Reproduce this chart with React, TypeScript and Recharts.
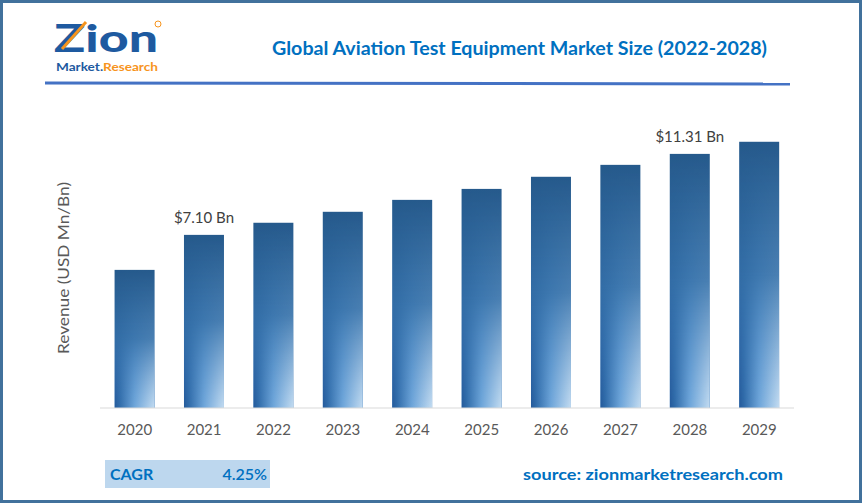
import React from "react";
import { BarChart, Bar, XAxis, YAxis, LabelList } from "recharts";

const years = ["2020", "2021", "2022", "2023", "2024", "2025", "2026", "2027", "2028", "2029"];
const revenue = [5.28, 7.1, 7.73, 8.3, 8.92, 9.49, 10.12, 10.74, 11.31, 11.94];
const valueLabels = ["", "$7.10 Bn", "", "", "", "", "", "", "$11.31 Bn", ""];
const axisMin = -1.9;
const axisMax = 12.5;

const data = years.map((y, i) => ({ year: y, value: revenue[i], range: [axisMin, revenue[i]], label: valueLabels[i] }));

const FONT = "Lato, 'Open Sans', sans-serif";

const GradientBar = (props: any) => {
  const { x, y, width, height } = props;
  if (!height || height <= 0) return null;
  return (
    <g>
      <rect x={x} y={y} width={width} height={height} fill="url(#barV)" />
      <rect x={x} y={y} width={width} height={height} fill="url(#barH)" mask="url(#barMask)" />
    </g>
  );
};

const renderLabel = (props: any) => {
  const { x, y, width, value } = props;
  if (!value) return null;
  return (
    <text x={x + width / 2} y={y - 12} textAnchor="middle" fontSize={15} fill="#404040" fontFamily={FONT}>
      {value}
    </text>
  );
};

export default function App() {
  return (
    <div style={{ position: "absolute", left: 0, top: 0, width: 862, height: 503, background: "#fff", fontFamily: FONT }}>
      <BarChart
        width={862}
        height={503}
        data={data}
        margin={{ top: 131, right: 68, bottom: 65, left: 100 }}
        barCategoryGap="21%"
      >
        <defs>
          <linearGradient id="barV" x1="0" y1="0" x2="0" y2="1">
            <stop offset="0" stopColor="#265A8C" />
            <stop offset="0.5" stopColor="#3570A8" />
            <stop offset="1" stopColor="#4683C0" />
          </linearGradient>
          <linearGradient id="barH" x1="0" y1="0" x2="1" y2="0">
            <stop offset="0" stopColor="#24599A" />
            <stop offset="0.12" stopColor="#2F6AA8" />
            <stop offset="0.5" stopColor="#6FA6DA" />
            <stop offset="1" stopColor="#C4DCF1" />
          </linearGradient>
          <linearGradient id="maskGrad" x1="0" y1="0" x2="0" y2="1">
            <stop offset="0" stopColor="#fff" stopOpacity="0" />
            <stop offset="0.5" stopColor="#fff" stopOpacity="0.15" />
            <stop offset="1" stopColor="#fff" stopOpacity="1" />
          </linearGradient>
          <mask id="barMask" maskUnits="objectBoundingBox" maskContentUnits="objectBoundingBox">
            <rect x="0" y="0" width="1" height="1" fill="url(#maskGrad)" />
          </mask>
        </defs>
        <XAxis
          dataKey="year"
          axisLine={{ stroke: "#D9D9D9", strokeWidth: 1 }}
          tickLine={false}
          tickMargin={10}
          tick={{ fill: "#595959", fontSize: 15, fontFamily: FONT }}
        />
        <YAxis hide domain={[axisMin, axisMax]} />
        <Bar dataKey="range" isAnimationActive={false} shape={<GradientBar />}>
          <LabelList dataKey="label" content={renderLabel} />
        </Bar>
      </BarChart>
      <svg
        width={862}
        height={503}
        style={{ position: "absolute", left: 0, top: 0, pointerEvents: "none" }}
      >
        <rect x={1.5} y={1.5} width={859} height={500} fill="none" stroke="#41719C" strokeWidth={3} />
        {/* logo */}
        <text x={54} y={52} fontSize={37} fontWeight={900} fill="#1E5AA0" fontFamily={FONT} textLength={104} lengthAdjust="spacingAndGlyphs">
          Zion
        </text>
        <line x1={62} y1={49} x2={86} y2={22} stroke="#F7941D" strokeWidth={3} />
        <circle cx={158} cy={24} r={3} fill="none" stroke="#F7941D" strokeWidth={1} />
        <text x={56} y={71} fontSize={11} fontWeight={700} fill="#1E5AA0" fontFamily={FONT} textLength={102} lengthAdjust="spacingAndGlyphs">
          Market.
          <tspan fill="#F7941D">Research</tspan>
        </text>
        {/* title */}
        <text x={272} y={55} fontSize={19} fontWeight={700} fill="#0070C0" fontFamily={FONT} textLength={495} lengthAdjust="spacingAndGlyphs">
          Global Aviation Test Equipment Market Size (2022-2028)
        </text>
        <line x1={45} y1={83} x2={790} y2={84} stroke="#4472C4" strokeWidth={3} />
        {/* y label */}
        <text
          x={0}
          y={0}
          transform="translate(69 268) rotate(-90)"
          textAnchor="middle"
          fontSize={15}
          fill="#595959"
          fontFamily={FONT}
          textLength={172}
          lengthAdjust="spacingAndGlyphs"
        >
          Revenue (USD Mn/Bn)
        </text>
        {/* CAGR */}
        <rect x={105} y={460} width={165} height={28} fill="#BDD7EE" />
        <text x={110} y={480} fontSize={16} fontWeight={700} fill="#0070C0" fontFamily={FONT}>
          CAGR
        </text>
        <text x={267} y={480} textAnchor="end" fontSize={16} fontWeight={600} fill="#0070C0" fontFamily={FONT}>
          4.25%
        </text>
        <text x={523} y={480} fontSize={16} fontWeight={700} fill="#0070C0" fontFamily={FONT} textLength={260} lengthAdjust="spacingAndGlyphs">
          source: zionmarketresearch.com
        </text>
      </svg>
    </div>
  );
}
